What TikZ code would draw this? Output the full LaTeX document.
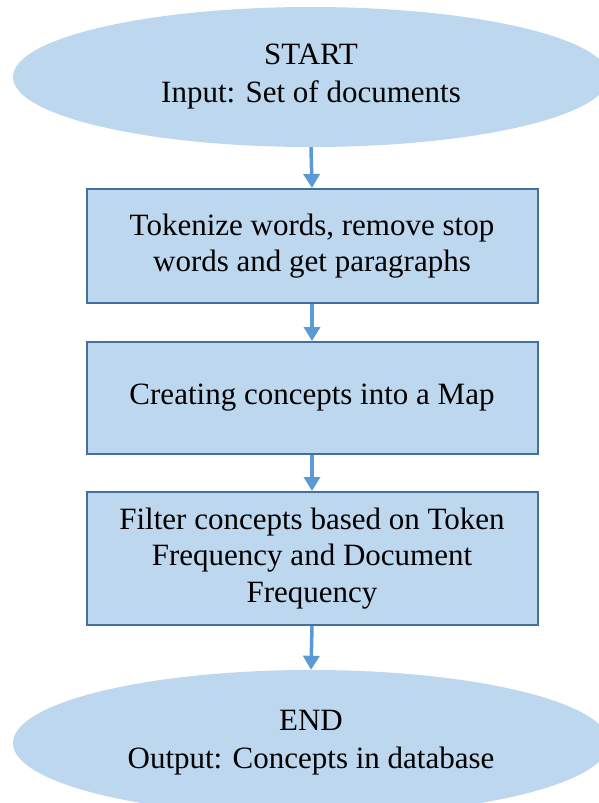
\documentclass[tikz,border=0pt]{standalone}
\usepackage{fontspec}
\setmainfont{Liberation Serif}
\usetikzlibrary{shapes.geometric,arrows.meta}

\definecolor{boxfill}{HTML}{BDD7EE}
\definecolor{boxline}{HTML}{41719C}
\definecolor{flowarrow}{HTML}{5B9BD5}

\tikzset{
    terminal/.style={ellipse, fill=boxfill, inner sep=0pt,
        minimum width=596pt, minimum height=140pt,
        align=center, font=\fontsize{31}{38}\selectfont},
    process/.style={rectangle, fill=boxfill, draw=boxline, line width=2pt,
        minimum width=451pt, align=center, inner sep=0pt,
        font=\fontsize{31}{36.5}\selectfont},
    flow/.style={-{Triangle[width=16pt,length=14pt]}, draw=flowarrow, line width=3.5pt}
}

\begin{document}
\begin{tikzpicture}[x=1pt,y=-1pt]
\useasboundingbox (0,0) rectangle (599,803);
\clip (0,0) rectangle (599,803);

% start / end
\node[terminal] (start) at (311,77) {START\\Input: Set of documents};
\node[terminal, minimum height=146pt] (stop) at (311,743) {END\\Output: Concepts in database};

% processing steps
\node[process, minimum height=114pt] (tokenize) at (312,246)
    {Tokenize words, remove stop\\words and get paragraphs};
\node[process, minimum height=112pt] (concepts) at (312,398)
    {Creating concepts into a Map};
\node[process, minimum height=133pt] (filter) at (312,558.5)
    {Filter concepts based on Token\\Frequency and Document\\Frequency};

% arrows
\draw[flow] (start.south) -- (tokenize.north);
\draw[flow] (tokenize.south) -- (concepts.north);
\draw[flow] (concepts.south) -- (filter.north);
\draw[flow] (filter.south) -- (stop.north);
\end{tikzpicture}
\end{document}
